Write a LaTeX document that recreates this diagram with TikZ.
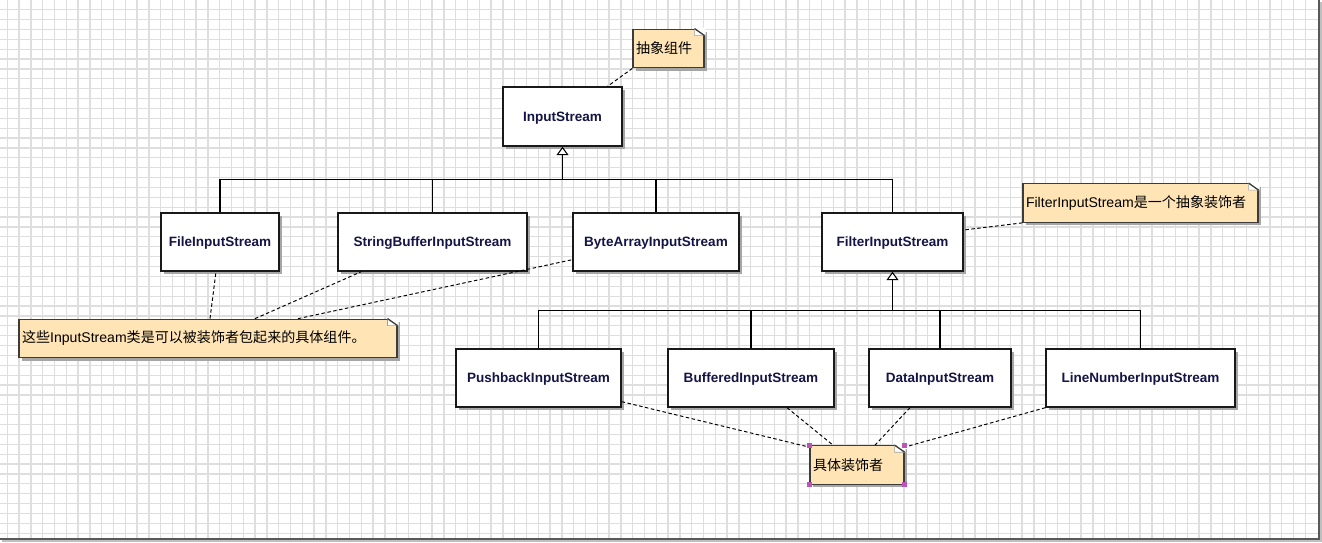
\documentclass[tikz,border=0pt]{standalone}
\usepackage{fontspec}
\setmainfont{Liberation Sans}
\newfontfamily\cjk{Noto Sans CJK SC}
\usetikzlibrary{calc, arrows.meta, shadows}

\definecolor{notebg}{RGB}{255,228,181}
\definecolor{noteline}{RGB}{60,60,60}
\definecolor{clstext}{RGB}{20,20,70}
\definecolor{gridc}{RGB}{222,222,222}
\definecolor{handlec}{RGB}{185,85,185}

\tikzset{
	cls/.style = {draw = black!90, line width = 0.75pt, fill = white, minimum height = 1.16cm,
		text = clstext, text depth = 0pt, font = \fontsize{7.7pt}{9pt}\selectfont\bfseries,
		drop shadow = {shadow xshift = 0.06cm, shadow yshift = -0.06cm, fill = black!35, opacity = 1}},
	note/.style = {draw = noteline, line width = 0.7pt, fill = notebg, minimum height = 0.77cm,
		inner xsep = 0.06cm, font = \fontsize{8pt}{10pt}\selectfont,
		drop shadow = {shadow xshift = 0.06cm, shadow yshift = -0.06cm, fill = black!35, opacity = 1}},
	tree/.style = {line width = 0.6pt},
	inherit/.style = {line width = 0.6pt, -{Triangle[fill = white, length = 0.17cm, width = 0.24cm]}},
	anchorline/.style = {line width = 0.55pt, dash pattern = on 0.07cm off 0.05cm},
	gridline/.style = {gridc, line width = 0.7pt},
}

% folded corner of a note
\newcommand\dogear[1]{%
	\fill[white] ($(#1.north east)+(-10,-1)$) -- ($(#1.north east)+(1,-1)$) -- ($(#1.north east)+(1,7)$) -- cycle;
	\draw[noteline!50, line width = 0.4pt, fill = white] ($(#1.north east)+(-10,0)$) |- ($(#1.north east)+(0,7)$) -- cycle;
	\draw[noteline, line width = 0.7pt] ($(#1.north east)+(-10,0)$) -- ($(#1.north east)+(0,7)$);
}

\begin{document}
\begin{tikzpicture}[x = 0.02cm, y = -0.02cm]
		\useasboundingbox (0,0) rectangle (1322,542);
		\fill[white] (0,0) rectangle (1322,542);

		% grid
		\foreach \gx in {0,...,110}
			\draw[gridline] ({7.3+\gx*11.8},0) -- ++(0,538);
		\foreach \gy in {0,...,53}
			\draw[gridline] (0,{9.6+\gy*9.88}) -- ++(1318,0);

		% frame
		\draw[black!25, line width = 0.04cm] (2,541) -- (1321,541) -- (1321,2);
		\draw[black!65, line width = 0.046cm] (0,538.8) -- (1318.8,538.8) -- (1318.8,0);

		% component
		\node [cls, minimum width = 2.38cm, minimum height = 1.18cm] (is) at (562.5,116.5) {InputStream};

		\node [cls, minimum width = 2.36cm] (fis) at (220,242) {FileInputStream};
		\node [cls, minimum width = 3.78cm] (sbis) at (432.5,242) {StringBufferInputStream};
		\node [cls, minimum width = 3.32cm] (bais) at (656,242) {ByteArrayInputStream};
		\node [cls, minimum width = 2.82cm] (filis) at (892.5,242) {FilterInputStream};

		% decorators
		\node [cls, minimum width = 3.30cm] (pbis) at (538.5,378) {PushbackInputStream};
		\node [cls, minimum width = 3.32cm] (bis) at (751,378) {BufferedInputStream};
		\node [cls, minimum width = 2.84cm] (dis) at (940,378) {DataInputStream};
		\node [cls, minimum width = 3.78cm] (lnis) at (1140.5,378) {LineNumberInputStream};

		% notes
		\node [note] (n1) at (668.5,48.5) {\makebox[1.30cm][l]{\cjk 抽象组件}};
		\node [note] (n2) at (1140.5,203) {\makebox[4.58cm][l]{FilterInputStream{\cjk 是一个抽象装饰者}}};
		\node [note] (n3) at (208,338.5) {\makebox[7.44cm][l]{{\cjk 这些}InputStream{\cjk 类是可以被装饰者包起来的具体组件。}}};
		\node [note] (n4) at (857,465) {\makebox[1.76cm][l]{\cjk 具体装饰者}};

		\dogear{n1}
		\dogear{n2}
		\dogear{n3}
		\dogear{n4}

		% inheritance
		\coordinate (bus1) at ($(is.south)+(0,33)$);
		\coordinate (bus2) at ($(filis.south)+(0,39)$);

		\draw[inherit] (bus1) -- (is.south);
		\draw[tree] (fis.north) |- (bus1) -| (filis.north);
		\draw[tree] (sbis.north) -- (sbis.north |- bus1);
		\draw[tree] (bais.north) -- (bais.north |- bus1);

		\draw[inherit] (bus2) -- (filis.south);
		\draw[tree] (pbis.north) |- (bus2) -| (lnis.north);
		\draw[tree] (bis.north) -- (bis.north |- bus2);
		\draw[tree] (dis.north) -- (dis.north |- bus2);

		% note links
		\draw[anchorline] (n1.south west) -- ($(is.north)+(45,0)$);
		\draw[anchorline] (n2.south west) -- ($(filis.east)+(0,-12)$);

		\draw[anchorline] ($(n3.north)+(2,0)$) -- ($(fis.south)+(-4,0)$);
		\draw[anchorline] ($(n3.north)+(47,0)$) -- ($(sbis.south west)+(24,0)$);
		\draw[anchorline] ($(n3.north)+(90,0)$) -- ($(bais.south west)+(0,-12)$);

		\draw[anchorline] ($(pbis.south east)+(0,-6)$) -- ($(n4.north west)+(0,2)$);
		\draw[anchorline] ($(bis.south)+(36,0)$) -- ($(n4.north)+(-24,0)$);
		\draw[anchorline] ($(dis.south)+(-30,0)$) -- ($(n4.north)+(18,0)$);
		\draw[anchorline] (lnis.south west) -- ($(n4.north east)+(0,2)$);

		% selection handles
		\foreach \corner in {north west, north east, south west, south east}
			\fill[handlec] ($(n4.\corner)+(-2.5,-2.5)$) rectangle ++(5,5);
	\end{tikzpicture}
\end{document}
